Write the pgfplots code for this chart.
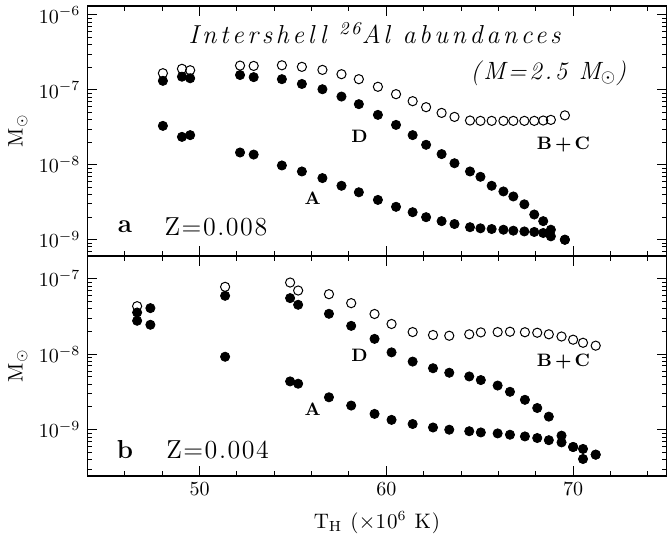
\documentclass[border=0pt]{standalone}
\usepackage{fontspec}
\setmainfont{Latin Modern Roman}
\usepackage{pgfplots}
\usepackage{pgfplotstable}
\pgfplotsset{compat=1.18}

% Panel a (Z=0.008): x = T_H, bc = B+C (open), d = D (filled), a = A (filled)
\pgfplotstableread{
x      bc       d        a
48.04  1.67e-7  1.32e-7  3.31e-8
49.06  1.91e-7  1.50e-7  2.36e-8
49.50  1.83e-7  1.43e-7  2.49e-8
52.17  2.11e-7  1.58e-7  1.46e-8
52.90  2.09e-7  1.48e-7  1.37e-8
54.41  2.13e-7  1.39e-7  9.8e-9
55.48  2.03e-7  1.20e-7  8.15e-9
56.58  1.85e-7  1.02e-7  6.65e-9
57.60  1.62e-7  8.15e-8  5.25e-9
58.53  1.39e-7  6.45e-8  4.30e-9
59.55  1.10e-7  4.64e-8  3.40e-9
60.52  8.77e-8  3.41e-8  2.75e-9
61.41  7.07e-8  2.49e-8  2.33e-9
62.13  5.88e-8  1.85e-8  2.00e-9
62.96  4.93e-8  1.39e-8  1.77e-9
63.65  4.36e-8  1.05e-8  1.62e-9
64.48  3.90e-8  8.15e-9  1.47e-9
65.04  3.86e-8  6.92e-9  1.42e-9
65.64  3.86e-8  5.25e-9  1.39e-9
66.27  3.86e-8  4.41e-9  1.36e-9
66.80  3.86e-8  3.78e-9  1.32e-9
67.39  3.86e-8  2.97e-9  1.29e-9
67.92  3.86e-8  2.17e-9  1.27e-9
68.40  3.90e-8  1.77e-9  1.23e-9
68.81  3.98e-8  1.36e-9  1.11e-9
69.56  4.57e-8  1.00e-9  1.00e-9
}\toptab

% Panel b (Z=0.004)
\pgfplotstableread{
x      bc       d        a
46.66  4.34e-8  3.58e-8  2.78e-8
51.37  7.83e-8  5.96e-8  9.27e-9
54.85  8.93e-8  5.55e-8  4.37e-9
55.28  7.00e-8  4.53e-8  4.07e-9
56.93  6.26e-8  3.44e-8  2.69e-9
58.12  4.76e-8  2.38e-8  2.09e-9
59.37  3.42e-8  1.60e-8  1.62e-9
60.28  2.52e-8  1.06e-8  1.35e-9
61.41  1.97e-8  8.0e-9   1.19e-9
62.50  1.80e-8  6.53e-9  1.07e-9
63.37  1.76e-8  5.69e-9  1.00e-9
64.44  1.84e-8  5.08e-9  9.55e-10
65.06  1.95e-8  4.55e-9  9.20e-10
65.96  1.97e-8  3.85e-9  8.93e-10
66.62  1.99e-8  3.18e-9  8.58e-10
67.42  1.96e-8  2.49e-9  8.15e-10
68.08  1.93e-8  1.94e-9  7.76e-10
68.70  1.84e-8  1.49e-9  7.26e-10
69.38  1.72e-8  8.34e-10 6.79e-10
70.00  1.56e-8  5.90e-10 5.90e-10
70.53  1.42e-8  4.09e-10 5.56e-10
71.21  1.30e-8  4.67e-10 4.67e-10
}\bottab

\pgfplotstableread{
x      d        a
47.37  4.09e-8  2.46e-8
}\botextra

\tikzset{lab/.style={font=\fontsize{9}{10}\selectfont\bfseries}}

\begin{document}
\begin{tikzpicture}
\begin{axis}[name=bot, at={(0,0)}, anchor=south west,
  scale only axis, width=289.75pt, height=110pt,
  xmin=44, xmax=75, ymode=log,
  ymin=2.46e-10, ymax=2.02e-7,
  xtick={50,60,70},
  minor xtick={46,48,52,54,56,58,62,64,66,68,72,74},
  ytick={1e-9,1e-8,1e-7},
  minor ytick={3e-10,4e-10,5e-10,6e-10,7e-10,8e-10,9e-10,2e-9,3e-9,4e-9,5e-9,6e-9,7e-9,8e-9,9e-9,2e-8,3e-8,4e-8,5e-8,6e-8,7e-8,8e-8,9e-8},
  axis line style={line width=0.9pt},
  major tick length=5pt, minor tick length=2.5pt,
  tick style={line width=0.5pt, black},
  tick label style={font=\fontsize{10}{11}\selectfont},
  ylabel={M$_\odot$},
  ylabel style={font=\fontsize{10.5}{12}\selectfont, at={(axis description cs:-0.12,0.5)}, anchor=center},
  xlabel={{\addfontfeatures{LetterSpace=5}T$_{\rm H}$ ($\times$10$^6$ K)}},
  xlabel style={font=\fontsize{10.5}{12}\selectfont, at={(axis description cs:0.5,0)}, anchor=center, yshift=-23.5pt},
]
\addplot[black, only marks, mark=o, mark size=2.3pt, mark options={line width=0.5pt}] table[x=x,y=bc]{\bottab};
\addplot[black, only marks, mark=*, mark size=2.3pt] table[x=x,y=d]{\bottab};
\addplot[black, only marks, mark=*, mark size=2.3pt] table[x=x,y=a]{\bottab};
\addplot[black, only marks, mark=*, mark size=2.3pt] table[x=x,y=d]{\botextra};
\addplot[black, only marks, mark=*, mark size=2.3pt] table[x=x,y=a]{\botextra};
\node[lab] at (rel axis cs:0.470,0.545) {D};
\node[lab] at (rel axis cs:0.822,0.518) {B\,+\,C};
\node[lab] at (rel axis cs:0.389,0.302) {A};
\node[font=\fontsize{13}{14}\selectfont\bfseries] at (rel axis cs:0.065,0.118) {b};
\node[font=\fontsize{13}{14}\selectfont, anchor=west] at (rel axis cs:0.124,0.118) {\addfontfeatures{LetterSpace=6}Z=0.004};
\end{axis}
\begin{axis}[name=top, at={(0,110pt)}, anchor=south west,
  scale only axis, width=289.75pt, height=125.15pt,
  xmin=44, xmax=75, ymode=log,
  ymin=6.1e-10, ymax=1.33e-6,
  xtick={50,60,70},
  minor xtick={46,48,52,54,56,58,62,64,66,68,72,74},
  xticklabels={},
  ytick={1e-9,1e-8,1e-7,1e-6},
  minor ytick={7e-10,8e-10,9e-10,2e-9,3e-9,4e-9,5e-9,6e-9,7e-9,8e-9,9e-9,2e-8,3e-8,4e-8,5e-8,6e-8,7e-8,8e-8,9e-8,2e-7,3e-7,4e-7,5e-7,6e-7,7e-7,8e-7,9e-7},
  axis line style={line width=0.9pt},
  major tick length=5pt, minor tick length=2.5pt,
  tick style={line width=0.5pt, black},
  tick label style={font=\fontsize{10}{11}\selectfont},
  ylabel={M$_\odot$},
  ylabel style={font=\fontsize{10.5}{12}\selectfont, at={(axis description cs:-0.12,0.5)}, anchor=center},
]
\addplot[black, only marks, mark=o, mark size=2.3pt, mark options={line width=0.5pt}] table[x=x,y=bc]{\toptab};
\addplot[black, only marks, mark=*, mark size=2.3pt] table[x=x,y=d]{\toptab};
\addplot[black, only marks, mark=*, mark size=2.3pt] table[x=x,y=a]{\toptab};
\node[font=\fontsize{13}{15}\selectfont\itshape] at (rel axis cs:0.496,0.891) {\addfontfeatures{LetterSpace=14}Intershell \textsuperscript{26}Al abundances};
\node[font=\fontsize{12.5}{14}\selectfont\itshape] at (rel axis cs:0.796,0.731) {\addfontfeatures{LetterSpace=11}(M=2.5 M$_\odot$)};
\node[lab] at (rel axis cs:0.470,0.479) {D};
\node[lab] at (rel axis cs:0.822,0.443) {B\,+\,C};
\node[lab] at (rel axis cs:0.389,0.232) {A};
\node[font=\fontsize{13}{14}\selectfont\bfseries] at (rel axis cs:0.065,0.116) {a};
\node[font=\fontsize{13}{14}\selectfont, anchor=west] at (rel axis cs:0.121,0.116) {\addfontfeatures{LetterSpace=6}Z=0.008};
\end{axis}
\pgfresetboundingbox
\path (-43.75pt,-31.5pt) rectangle (290pt,238pt);
\end{tikzpicture}
\end{document}
